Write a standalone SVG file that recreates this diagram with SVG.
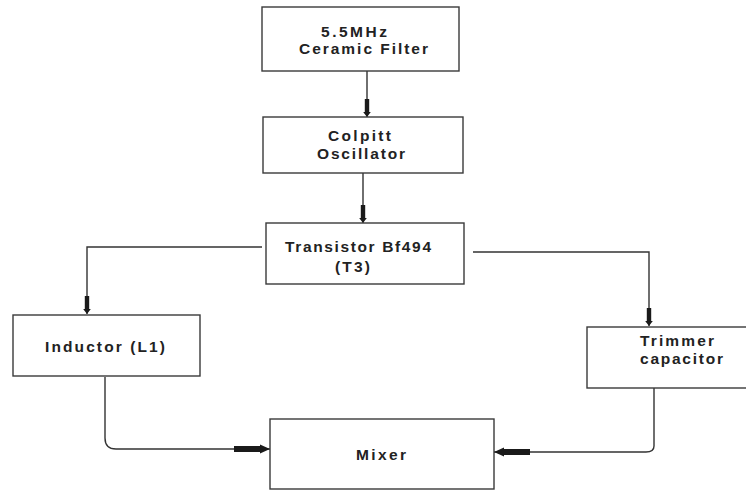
<svg xmlns="http://www.w3.org/2000/svg" width="746" height="491" viewBox="0 0 746 491">
<defs>
<style>
.box{fill:#fff;stroke:#3a3a3a;stroke-width:1.4}
.lbl{font-family:"Liberation Sans",Arial,sans-serif;font-weight:bold;font-size:15.5px;fill:#222}
.c{fill:none;stroke:#333;stroke-width:1.4}
</style>
<marker id="ah" markerUnits="userSpaceOnUse" markerWidth="20" markerHeight="10" refX="18" refY="5" orient="auto" viewBox="0 0 20 10">
<path d="M0,2.8 L13,2.8 L13,1.2 L18,5 L13,8.8 L13,7.2 L0,7.2 Z" fill="#1a1a1a"/>
</marker>
<marker id="ahl" markerUnits="userSpaceOnUse" markerWidth="38" markerHeight="12" refX="36" refY="6" orient="auto" viewBox="0 0 38 12">
<path d="M0,3 L26,3 L26,1.6 L36,6 L26,10.4 L26,9 L0,9 Z" fill="#1a1a1a"/>
</marker>
</defs>
<rect width="746" height="491" fill="#fff"/>
<g id="connectors">
<path class="c" d="M367,71 V117" marker-end="url(#ah)"/>
<path class="c" d="M363,173 V223" marker-end="url(#ah)"/>
<path class="c" d="M262,247 H87 V314" marker-end="url(#ah)"/>
<path class="c" d="M473,252 H649 V326" marker-end="url(#ah)"/>
<path class="c" d="M105,377 V438 Q105,449 116,449 H270" marker-end="url(#ahl)"/>
<path class="c" d="M654,388 V446 Q654,452 646,452 H494" marker-end="url(#ahl)"/>
</g>
<g id="filter">
<rect class="box" x="262" y="7" width="197" height="64"/>
<text class="lbl" x="321" y="37" textLength="66" lengthAdjust="spacing">5.5MHz</text>
<text class="lbl" x="299" y="54" textLength="129" lengthAdjust="spacing">Ceramic Filter</text>
</g>
<g id="colpitt">
<rect class="box" x="263" y="117" width="200" height="56"/>
<text class="lbl" x="328" y="141" textLength="63" lengthAdjust="spacing">Colpitt</text>
<text class="lbl" x="317" y="159" textLength="88" lengthAdjust="spacing">Oscillator</text>
</g>
<g id="transistor">
<rect class="box" x="266" y="223" width="198" height="61"/>
<text class="lbl" x="285" y="252" textLength="146" lengthAdjust="spacing">Transistor Bf494</text>
<text class="lbl" x="335" y="272" textLength="35" lengthAdjust="spacing">(T3)</text>
</g>
<g id="inductor">
<rect class="box" x="13" y="315" width="187" height="61"/>
<text class="lbl" x="45" y="352" textLength="120" lengthAdjust="spacing">Inductor (L1)</text>
</g>
<g id="trimmer">
<rect class="box" x="587" y="327" width="165" height="61"/>
<text class="lbl" x="640" y="346" textLength="74" lengthAdjust="spacing">Trimmer</text>
<text class="lbl" x="640" y="364" textLength="83" lengthAdjust="spacing">capacitor</text>
</g>
<g id="mixer">
<rect class="box" x="270" y="419" width="224" height="70"/>
<text class="lbl" x="356" y="460" textLength="50" lengthAdjust="spacing">Mixer</text>
</g>
</svg>
